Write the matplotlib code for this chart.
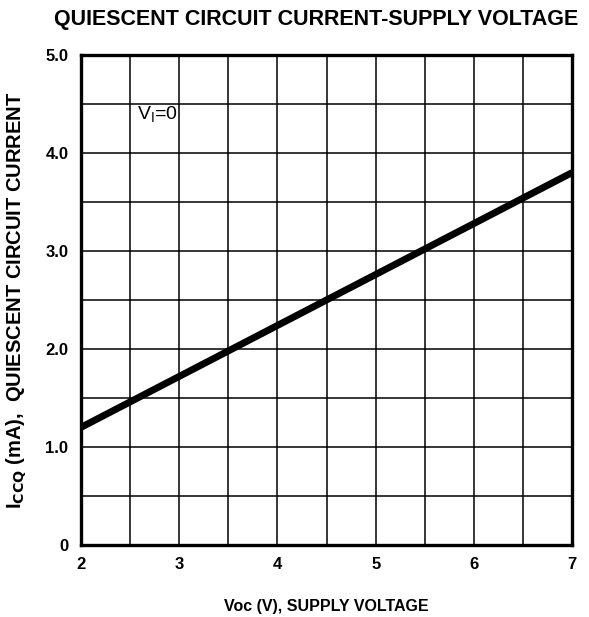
import matplotlib
matplotlib.use("Agg")
import matplotlib.pyplot as plt
from matplotlib.ticker import MultipleLocator

plt.rcParams['font.family'] = ['Liberation Sans', 'DejaVu Sans']

vcc = [2, 3, 4, 5, 6, 7]
iccq = [1.2, 1.72, 2.24, 2.76, 3.28, 3.8]
xticks = [2, 3, 4, 5, 6, 7]
yticks = [0, 1, 2, 3, 4, 5]
ytick_labels = ["0", "1.0", "2.0", "3.0", "4.0", "5.0"]

fig = plt.figure(figsize=(5.89, 6.17), dpi=100)
ax = fig.add_axes([0.1375, 0.1167, 0.834, 0.7943])
ax.set_xlim(2, 7)
ax.set_ylim(0, 5)
ax.xaxis.set_minor_locator(MultipleLocator(0.5))
ax.yaxis.set_minor_locator(MultipleLocator(0.5))
ax.set_xticks(xticks)
ax.set_yticks(yticks)
ax.set_yticklabels(ytick_labels)
ax.grid(True, which='both', color='black', linewidth=1.1)
ax.tick_params(which='both', length=0, labelsize=12, pad=9)
for lab in ax.get_xticklabels() + ax.get_yticklabels():
    lab.set_fontweight('bold')
for s in ax.spines.values():
    s.set_linewidth(2.4)
ax.plot(vcc, iccq, color='black', linewidth=5, solid_capstyle='butt')
ax.text(2.57, 4.39, r"V$_\mathregular{I}$=0", fontsize=14, ha='left', va='center')
ax.set_xlabel("Voc (V), SUPPLY VOLTAGE", fontsize=11.5, fontweight='bold', labelpad=19)
ax.set_ylabel(r"I$_\mathbf{CCQ}$ (mA),  QUIESCENT CIRCUIT CURRENT", fontsize=14.5,
              fontweight='bold', labelpad=12)
fig.text(0.537, 0.968, "QUIESCENT CIRCUIT CURRENT-SUPPLY VOLTAGE", fontsize=15.5,
         fontweight='heavy', ha='center', va='center')
fig.savefig("out.png", dpi=100)
